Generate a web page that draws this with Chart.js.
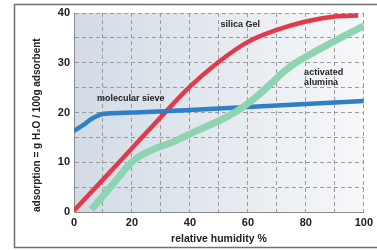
<!DOCTYPE html>
<html>
<head>
<meta charset="utf-8">
<script src="https://cdn.jsdelivr.net/npm/chart.js@4/dist/chart.umd.min.js"></script>
<style>
  body { margin: 0; background: #fff; }
  #wrap { width: 377px; height: 250px; }
</style>
</head>
<body>
<div id="wrap"><canvas id="adsorption"></canvas></div>
<script>
// values (x = relative humidity %, y = g H2O / 100g)
const silicaX = [0, 10, 20, 30, 40, 50, 60, 70, 80, 90, 98];
const silicaY = [0.3, 6.5, 12.8, 19.1, 25.2, 30.2, 34.2, 36.6, 38.3, 39.3, 39.5];

const sieveX = [0, 3, 6, 10, 20, 40, 60, 80, 100];
const sieveY = [16.3, 17.4, 18.7, 19.7, 20.0, 20.5, 21.1, 21.7, 22.3];

const aluminaX = [6, 10, 14, 20, 27, 33, 43, 50, 56, 60, 64, 68, 72, 76, 80, 90, 100];
const aluminaY = [0.5, 3.2, 6, 10.1, 12.5, 13.8, 16.5, 18.3, 20.2, 21.8, 23.7, 25.8, 28, 29.8, 31.2, 34.4, 37.4];

// text labels inside the plot, placed in data units
const noteText = ["molecular sieve", "silica Gel", "activated", "alumina"];
const noteX = [19.6, 57.4, 79.4, 79.4];
const noteY = [22.9, 37.6, 28.1, 26.1];
const noteAlign = ["center", "center", "left", "left"];

const FONT = "'Liberation Sans', Arial, sans-serif";

function toPoints(xs, ys) {
  return xs.map((x, i) => ({ x: x, y: ys[i] }));
}

// grey frame + plot background
const backdrop = {
  id: "backdrop",
  beforeDraw(chart) {
    const { ctx, chartArea: a } = chart;
    ctx.save();
    ctx.strokeStyle = "#707070";
    ctx.lineWidth = 1.5;
    ctx.strokeRect(14.5, 4.5, 380, 243);
    const g = ctx.createLinearGradient(a.left, 0, a.right, 0);
    g.addColorStop(0, "#d2dbe5");
    g.addColorStop(1, "#f7f8fa");
    ctx.fillStyle = g;
    ctx.fillRect(a.left, a.top, a.right - a.left, a.bottom - a.top);
    ctx.restore();
  },
  afterDatasetsDraw(chart) {
    const { ctx, scales } = chart;
    ctx.save();
    ctx.fillStyle = "#222";
    ctx.font = "bold 9px " + FONT;
    ctx.textBaseline = "middle";
    noteText.forEach((t, i) => {
      ctx.textAlign = noteAlign[i];
      ctx.fillText(t, scales.x.getPixelForValue(noteX[i]), scales.y.getPixelForValue(noteY[i]));
    });
    ctx.restore();
  },
};

const ctx = document.getElementById("adsorption");

new Chart(ctx, {
  type: "line",
  data: {
    datasets: [
      {
        label: "activated alumina",
        data: toPoints(aluminaX, aluminaY),
        borderColor: "#8ed3b2",
        borderWidth: 7,
        borderCapStyle: "butt",
      },
      {
        label: "molecular sieve",
        data: toPoints(sieveX, sieveY),
        borderColor: "#2f7fc7",
        borderWidth: 4.5,
      },
      {
        label: "silica Gel",
        data: toPoints(silicaX, silicaY),
        borderColor: "#e03a4b",
        borderWidth: 4.5,
      },
    ],
  },
  options: {
    responsive: true,
    maintainAspectRatio: false,
    animation: false,
    layout: { padding: { left: 0, top: 13, right: 12, bottom: 0 } },
    elements: {
      point: { radius: 0 },
      line: { cubicInterpolationMode: "monotone", fill: false },
    },
    plugins: { legend: { display: false }, tooltip: { enabled: false } },
    scales: {
      x: {
        type: "linear",
        min: 0,
        max: 100,
        afterFit: (s) => { s.height = 38; },
        grid: { color: "#9a9a9a", lineWidth: 1, drawTicks: false },
        border: { color: "#8a8a8a", width: 1, dash: [4, 3] },
        ticks: {
          stepSize: 10,
          autoSkip: false,
          maxRotation: 0,
          padding: 4,
          color: "#222",
          font: { family: FONT, size: 11, weight: "bold" },
          callback: (v) => (v % 20 === 0 ? v : ""),
        },
        title: {
          display: true,
          text: "relative humidity %",
          color: "#222",
          font: { family: FONT, size: 10.5, weight: "bold" },
          padding: { top: 0, bottom: 5 },
        },
      },
      y: {
        min: 0,
        max: 40,
        afterFit: (s) => { s.width = 74; },
        grid: { color: "#9a9a9a", lineWidth: 1, drawTicks: false },
        border: { color: "#8a8a8a", width: 1, dash: [4, 3] },
        ticks: {
          stepSize: 5,
          autoSkip: false,
          padding: 4,
          color: "#222",
          font: { family: FONT, size: 11, weight: "bold" },
          callback: (v) => (v % 10 === 0 ? v : ""),
        },
        title: {
          display: true,
          text: "adsorption = g H₂O / 100g adsorbent",
          align: "start",
          color: "#222",
          font: { family: FONT, size: 10, weight: "bold" },
          padding: { top: 31, bottom: 0 },
        },
      },
    },
  },
  plugins: [backdrop],
});
</script>
</body>
</html>
